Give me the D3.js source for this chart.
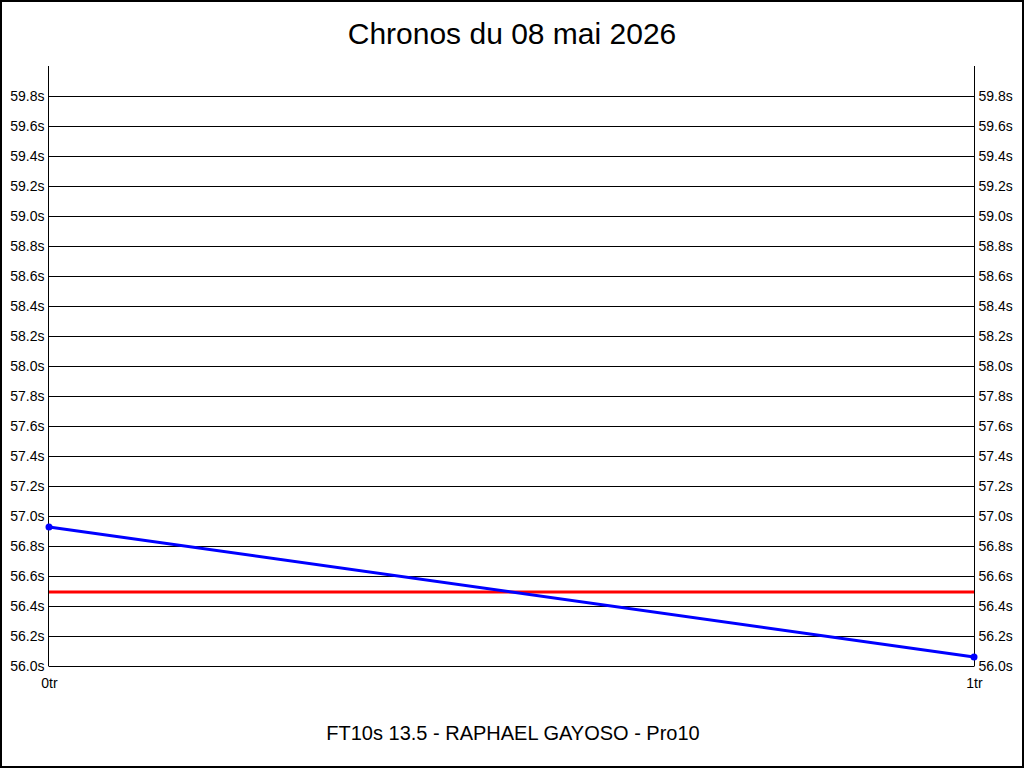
<!DOCTYPE html>
<html><head><meta charset="utf-8">
<script src="https://cdn.jsdelivr.net/npm/d3@7"></script>
<style>body{margin:0;background:#fff}svg{display:block}</style>
</head><body>
<script>
const title = "Chronos du 08 mai 2026";
const subtitle = "FT10s 13.5 - RAPHAEL GAYOSO - Pro10";
const laps = ["0tr", "1tr"];
const lapTimes = [56.927, 56.06];
const average = [56.493];
const yTicks = [56.0,56.2,56.4,56.6,56.8,57.0,57.2,57.4,57.6,57.8,58.0,58.2,58.4,58.6,58.8,59.0,59.2,59.4,59.6,59.8];

const W = 1024, H = 768;
const svg = d3.select("body").append("svg").attr("width", W).attr("height", H);
svg.append("rect").attr("x",1).attr("y",1).attr("width",W-2).attr("height",H-2)
  .attr("fill","#fff").attr("stroke","#000").attr("stroke-width",2);

const pLeft = 49, pRight = 974, pTop = 66, pBottom = 666;
const x = d3.scalePoint().domain(laps).range([pLeft, pRight]);
const y = d3.scaleLinear().domain([56.0, 60.0]).range([pBottom, pTop]);
const font = "'Liberation Sans', Arial, sans-serif";

svg.append("text").attr("x", 512).attr("y", 44).attr("text-anchor","middle")
  .attr("font-family", font).attr("font-size", 30).text(title);
svg.append("text").attr("x", 513).attr("y", 740).attr("text-anchor","middle")
  .attr("font-family", font).attr("font-size", 20).text(subtitle);

// grid
svg.append("g").selectAll("line").data(yTicks).join("line")
  .attr("x1", pLeft).attr("x2", pRight)
  .attr("y1", d => Math.round(y(d)) + 0.5).attr("y2", d => Math.round(y(d)) + 0.5)
  .attr("stroke","#000").attr("stroke-width",1);

const fmt = d => d.toFixed(1) + "s";
const la = svg.append("g").attr("transform", `translate(${pLeft - 0.5},0)`)
  .call(d3.axisLeft(y).tickValues(yTicks).tickFormat(fmt).tickSize(0).tickPadding(4));
const ra = svg.append("g").attr("transform", `translate(${pRight + 0.5},0)`)
  .call(d3.axisRight(y).tickValues(yTicks).tickFormat(fmt).tickSize(0).tickPadding(4));
[la, ra].forEach(g => {
  g.select(".domain").attr("stroke","#000").attr("d", `M0,${pTop}V${pBottom + 0.5}`);
  g.selectAll("text").attr("font-family", font).attr("font-size", 14).attr("fill","#000");
});

const xa = svg.append("g").attr("transform", `translate(0,${pBottom})`)
  .call(d3.axisBottom(x).tickSize(0).tickPadding(12));
xa.select(".domain").remove();
xa.selectAll("text").attr("font-family", font).attr("font-size", 14).attr("fill","#000");

// average line
svg.append("line").attr("x1", pLeft).attr("x2", pRight)
  .attr("y1", y(average[0])).attr("y2", y(average[0]))
  .attr("stroke","#ff0000").attr("stroke-width",3);

// lap line
const pts = laps.map((l, i) => [x(l), y(lapTimes[i])]);
svg.append("path").attr("d", d3.line()(pts)).attr("fill","none")
  .attr("stroke","#0000ff").attr("stroke-width",3);
svg.append("g").selectAll("circle").data(pts).join("circle")
  .attr("cx", d => d[0]).attr("cy", d => d[1]).attr("r", 3.5)
  .attr("fill","#0000ff");
</script>
</body></html>
